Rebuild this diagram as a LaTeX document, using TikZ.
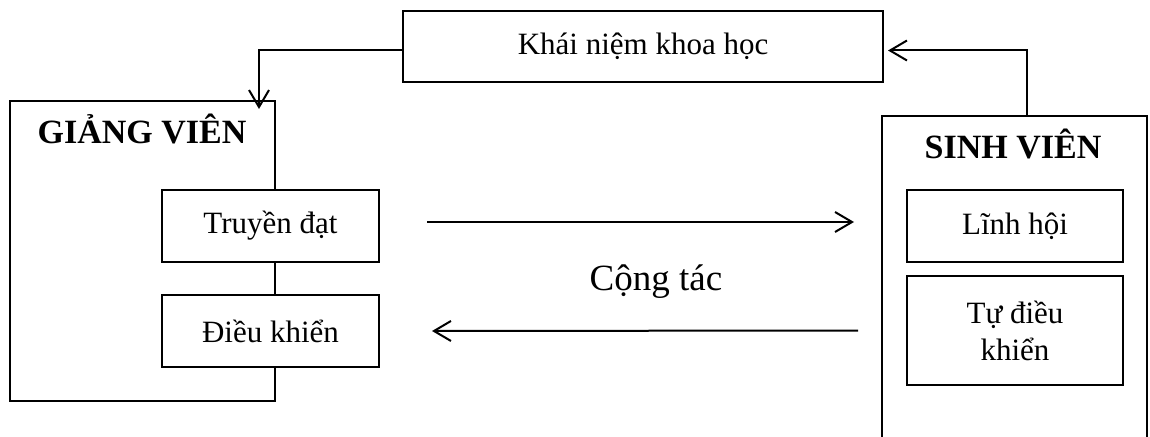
\documentclass[tikz,border=0pt]{standalone}
\usepackage{fontspec}
\setmainfont{Liberation Serif}
\usetikzlibrary{arrows.meta}
\begin{document}
\begin{tikzpicture}[x=1pt,y=-1pt,line width=2pt,
  box/.style={draw,rectangle,inner sep=0pt,fill=white},
  txt/.style={font=\fontsize{31}{37}\selectfont},
  ttl/.style={font=\fontsize{34}{40}\selectfont\bfseries,anchor=base},
  arr/.style={-{Straight Barb[length=17pt,width=20pt]}}]
\useasboundingbox (0,0) rectangle (1150,436);
% left block
\node[box,minimum width=265pt,minimum height=300pt] (gv) at (142.5,251) {};
\node[ttl] (gvt) at (142,143) {GIẢNG VIÊN};
\node[box,txt,minimum width=217pt,minimum height=72pt] (td) at (270.5,226) {Truyền đạt};
\node[box,txt,minimum width=217pt,minimum height=72pt] (dk) at (270.5,331) {Điều khiển};
% top block
\node[box,txt,minimum width=480pt,minimum height=71pt] (kn) at (643,46.5) {Khái niệm khoa học};
% right block
\node[box,minimum width=265pt,minimum height=340pt] (sv) at (1014.5,286) {};
\node[ttl] (svt) at (1013,158) {SINH VIÊN};
\node[box,txt,minimum width=216pt,minimum height=72pt] (lh) at (1015,226) {Lĩnh hội};
\node[box,txt,align=center,minimum width=216pt,minimum height=109pt] (tdk) at (1015,330.5) {Tự điều\\khiển};
% middle label
\node[font=\fontsize{37}{44}\selectfont,anchor=base] (ct) at (656,290) {Cộng tác};
% connectors
\draw[arr] ([yshift=-4pt]kn.west) -| ([xshift=-17pt,yshift=-9pt]gv.north east);
\draw[arr] ([xshift=12pt]sv.north) |- ([xshift=4pt,yshift=-4pt]kn.east);
\draw[arr] ([xshift=47pt,yshift=4pt]td.east) -- ([xshift=-52pt,yshift=4pt]lh.west);
\draw[arr] ([xshift=-48pt]tdk.west) -- ([xshift=52pt]dk.east);
\end{tikzpicture}
\end{document}
